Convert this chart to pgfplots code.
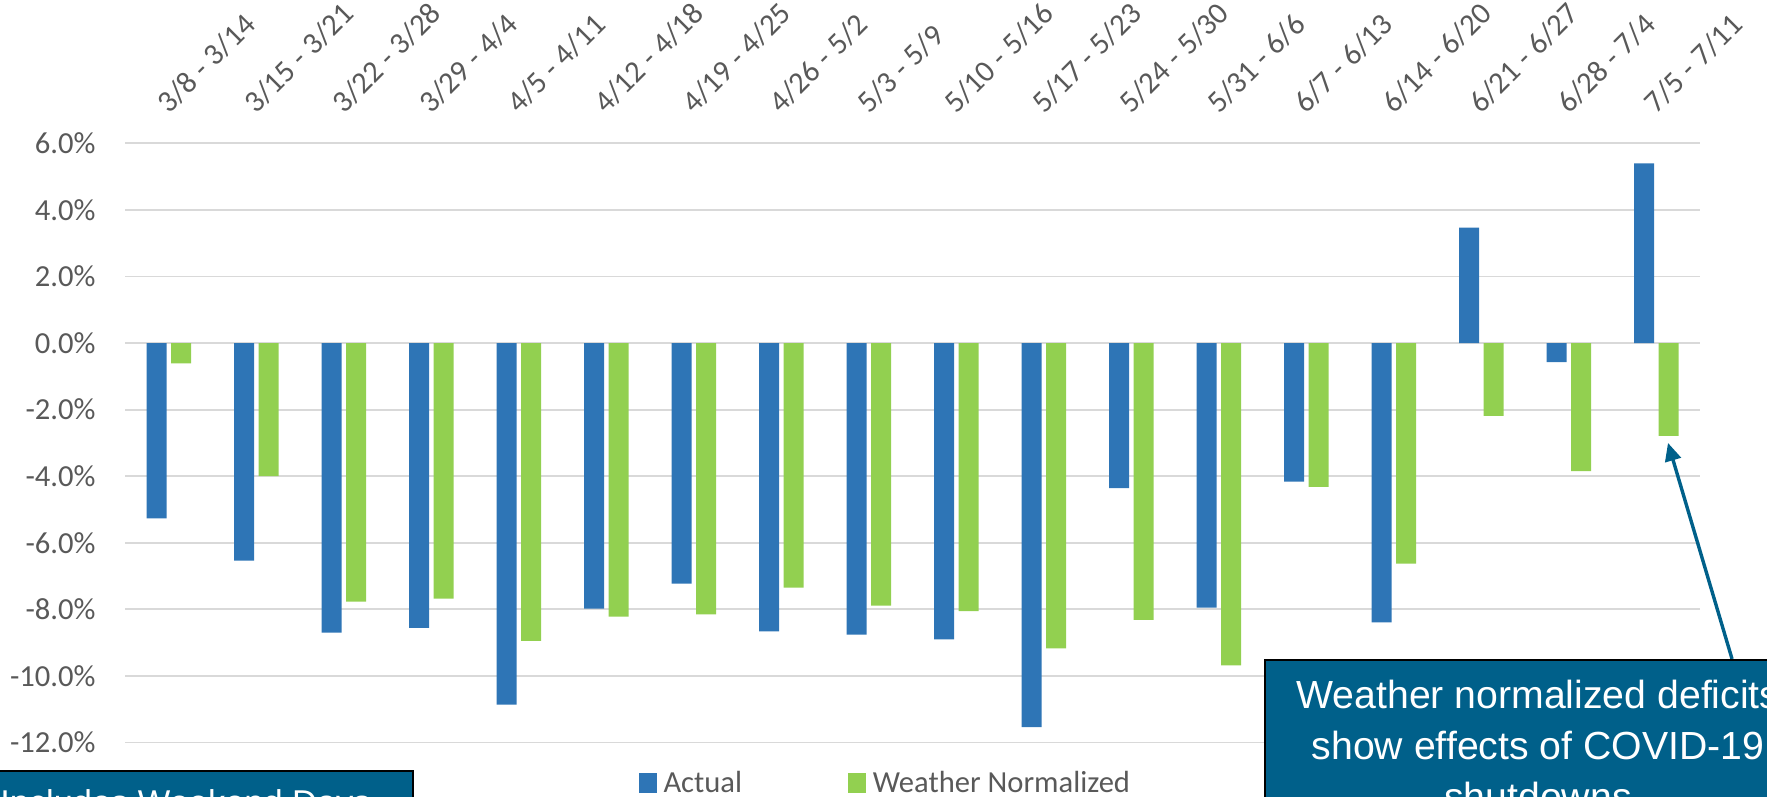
\documentclass[border=0pt]{standalone}
\usepackage{pgfplots}
\pgfplotsset{compat=1.18}
\usepackage{pgfplotstable}
\usetikzlibrary{arrows.meta}
\usepackage{fontspec}
\setmainfont{Carlito}
\newfontfamily\boxfont{Liberation Sans}
\definecolor{barblue}{HTML}{2E75B6}
\definecolor{bargreen}{HTML}{92D050}
\definecolor{gridgray}{HTML}{D9D9D9}
\definecolor{tickgray}{HTML}{595959}
\definecolor{boxblue}{HTML}{00608A}

\pgfplotstableread{
x actual weather
0 -5.27 -0.61
1 -6.54 -4.00
2 -8.70 -7.77
3 -8.56 -7.68
4 -10.86 -8.95
5 -7.98 -8.22
6 -7.23 -8.15
7 -8.66 -7.35
8 -8.76 -7.89
9 -8.90 -8.05
10 -11.54 -9.17
11 -4.36 -8.32
12 -7.95 -9.68
13 -4.16 -4.32
14 -8.39 -6.63
15 3.47 -2.19
16 -0.57 -3.85
17 5.40 -2.79
}\datatable

\begin{document}
\begin{tikzpicture}
\path[use as bounding box] (0,0) rectangle (883.5pt,398.5pt);
\clip (0,0) rectangle (883.5pt,398.5pt);
\begin{axis}[
  at={(62.5pt,27.25pt)}, anchor=south west,
  scale only axis, width=787.5pt, height=299.6pt,
  xmin=-0.5, xmax=17.5, ymin=-12, ymax=6,
  ybar=2.25pt, bar width=10pt,
  xtick=data,
  xticklabels={3/8 - 3/14, 3/15 - 3/21, 3/22 - 3/28, 3/29 - 4/4, 4/5 - 4/11, 4/12 - 4/18, 4/19 - 4/25, 4/26 - 5/2, 5/3 - 5/9, 5/10 - 5/16, 5/17 - 5/23, 5/24 - 5/30, 5/31 - 6/6, 6/7 - 6/13, 6/14 - 6/20, 6/21 - 6/27, 6/28 - 7/4, 7/5 - 7/11},
  xticklabel pos=upper,
  ytick={-12,-10,-8,-6,-4,-2,0,2,4,6},
  yticklabels={-12.0\%,-10.0\%,-8.0\%,-6.0\%,-4.0\%,-2.0\%,0.0\%,2.0\%,4.0\%,6.0\%},
  axis line style={draw=none},
  major tick length=0pt,
  ymajorgrids, grid style={gridgray, line width=0.9pt},
  tick label style={font=\fontsize{15.3pt}{18pt}\selectfont, text=tickgray},
  xticklabel style={rotate=45, anchor=base west, inner sep=0pt},
  xticklabel shift=14.25pt,
  yticklabel style={anchor=east, inner sep=0pt},
  yticklabel shift=14.5pt,
  clip=false,
  legend columns=2,
  legend style={at={(rel axis cs:0.3263,-0.0676)}, anchor=west, draw=none, fill=none,
    inner sep=0pt, outer sep=0pt,
    font=\fontsize{15.3pt}{18pt}\selectfont, text=tickgray,
    nodes={inner sep=0pt},
    /tikz/every odd column/.append style={column sep=3.5pt},
    /tikz/every even column/.append style={column sep=53pt}},
  legend cell align=left,
]
\addplot[fill=barblue, draw=none,
  legend image code/.code={\fill[barblue] (0pt,-4.8pt) rectangle (8.8pt,4.8pt);}]
  table[x=x, y=actual] {\datatable};
\addlegendentry{Actual}
\addplot[fill=bargreen, draw=none,
  legend image code/.code={\fill[bargreen] (0pt,-4.8pt) rectangle (8.8pt,4.8pt);}]
  table[x=x, y=weather] {\datatable};
\addlegendentry{Weather Normalized}
\draw[boxblue, line width=1.7pt, -{Triangle[width=8pt,length=9pt]}]
  (axis cs:17.866,-9.49) -- (axis cs:17.134,-3.0);
\end{axis}
\begin{scope}[shift={(0,398.5pt)}, x=0.5pt, y=-0.5pt]
\filldraw[fill=boxblue, draw=black, line width=1pt] (1265,660) rectangle (1830,900);
\filldraw[fill=boxblue, draw=black, line width=1pt] (-40,771) rectangle (413,900);
\begin{scope}[every node/.style={text=white, anchor=base, inner sep=0pt}]
\node[font=\boxfont\fontsize{19.6pt}{24pt}\selectfont] at (1538,709) {Weather normalized deficits};
\node[font=\boxfont\fontsize{19.6pt}{24pt}\selectfont] at (1538,760) {show effects of COVID-19};
\node[font=\boxfont\fontsize{19.6pt}{24pt}\selectfont] at (1538,811) {shutdowns};
\node[font=\boxfont\fontsize{17.2pt}{21pt}\selectfont] at (185.5,815) {Includes Weekend Days};
\end{scope}
\end{scope}
\end{tikzpicture}
\end{document}
